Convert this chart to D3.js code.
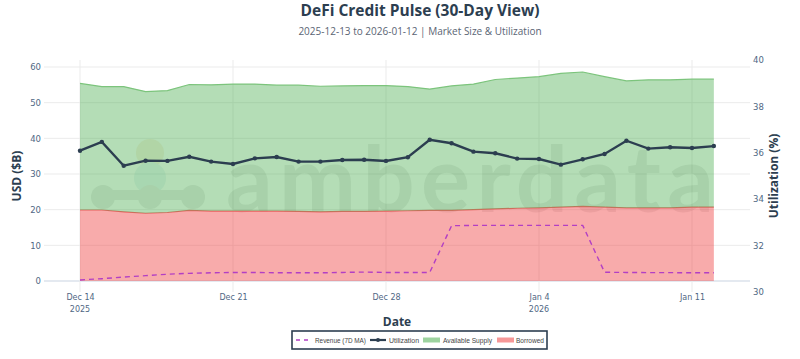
<!DOCTYPE html>
<html><head><meta charset="utf-8">
<script src="https://cdn.jsdelivr.net/npm/d3@7"></script>
<style>body{margin:0;background:#fff;} svg{display:block;font-family:"Open Sans",sans-serif;}</style>
</head><body><svg id="c" width="800" height="359"></svg>
<script>
const dates = ["2025-12-14","2025-12-15","2025-12-16","2025-12-17","2025-12-18","2025-12-19","2025-12-20","2025-12-21","2025-12-22","2025-12-23","2025-12-24","2025-12-25","2025-12-26","2025-12-27","2025-12-28","2025-12-29","2025-12-30","2025-12-31","2026-01-01","2026-01-02","2026-01-03","2026-01-04","2026-01-05","2026-01-06","2026-01-07","2026-01-08","2026-01-09","2026-01-10","2026-01-11","2026-01-12"];
const borrowed = [19.9,19.9,19.4,19.0,19.2,19.8,19.6,19.6,19.6,19.6,19.5,19.4,19.5,19.5,19.6,19.7,19.8,19.8,20.0,20.2,20.4,20.5,20.7,20.9,20.7,20.5,20.5,20.5,20.7,20.7];
const availableSupply = [35.5,34.6,35.1,34.1,34.2,35.3,35.4,35.6,35.6,35.3,35.4,35.2,35.2,35.3,35.2,34.8,34.0,34.9,35.2,36.3,36.5,36.8,37.5,37.7,36.6,35.6,35.9,35.9,35.9,35.9];
const utilization = [36.09,36.47,35.44,35.66,35.65,35.83,35.62,35.52,35.76,35.82,35.62,35.62,35.69,35.70,35.65,35.81,36.56,36.41,36.05,35.98,35.75,35.73,35.49,35.72,35.95,36.52,36.18,36.24,36.21,36.29];
const revenue7dMA = [0.3,0.65,1.1,1.5,1.9,2.15,2.3,2.4,2.4,2.3,2.3,2.3,2.4,2.5,2.4,2.4,2.4,15.5,15.6,15.6,15.6,15.6,15.6,15.6,2.45,2.4,2.35,2.35,2.3,2.3];
const leftTicks = [0,10,20,30,40,50,60];
const rightTicks = [30,32,34,36,38,40];
const xTickDates = ["2025-12-14","2025-12-21","2025-12-28","2026-01-04","2026-01-11"];
const xTickLabels = ["Dec 14","Dec 21","Dec 28","Jan 4","Jan 11"];
const xYearLabels = [["2025-12-14","2025"],["2026-01-04","2026"]];
const legendItems = ["Revenue (7D MA)","Utilization","Available Supply","Borrowed"];

const parse = d3.utcParse("%Y-%m-%d");
const data = dates.map((d,i)=>({date:parse(d), b:borrowed[i], a:availableSupply[i], u:utilization[i], r:revenue7dMA[i]}));

const svg = d3.select("#c");
const P = {l:44, r:750, t:60, b:292};
const x = d3.scaleUtc().domain([parse("2025-12-14"), parse("2026-01-11")]).range([80, 692]);
const yL = d3.scaleLinear().domain([0,60]).range([281,67]);
const yR = d3.scaleLinear().domain([30,40]).range([292,60]);

const ink = "#2c3e50", tickCol = "#506784", tickFont = "DejaVu Sans, Verdana, sans-serif";

// title
svg.append("text").attr("x",420).attr("y",15.5).attr("text-anchor","middle")
  .attr("font-size",15.5).attr("font-weight","bold").attr("fill",ink).text("DeFi Credit Pulse (30-Day View)");
svg.append("text").attr("x",420).attr("y",34.5).attr("text-anchor","middle")
  .attr("font-size",10).attr("fill","#5a6474").text("2025-12-13 to 2026-01-12 | Market Size & Utilization");

// grid
const g = svg.append("g");
g.selectAll(".hg").data(leftTicks).join("line")
  .attr("x1",P.l).attr("x2",P.r).attr("y1",d=>yL(d)).attr("y2",d=>yL(d))
  .attr("stroke",d=>d===0?"#e4e9f0":"#ebebeb").attr("stroke-width",d=>d===0?2:1);
g.selectAll(".vg").data(xTickDates).join("line")
  .attr("x1",d=>x(parse(d))).attr("x2",d=>x(parse(d))).attr("y1",P.t).attr("y2",P.b)
  .attr("stroke","#ebebeb");

// watermark
const wm = svg.append("g").attr("opacity",0.14);
wm.append("circle").attr("cx",150).attr("cy",153).attr("r",14).attr("fill","#e0a040");
wm.append("circle").attr("cx",150).attr("cy",178).attr("r",16).attr("fill","#6fb8c8");
[[103,197],[150,197],[193,197]].forEach(([cx,cy])=>wm.append("circle").attr("cx",cx).attr("cy",cy).attr("r",12).attr("fill","#707070"));
wm.append("rect").attr("x",103).attr("y",190).attr("width",90).attr("height",10).attr("fill","#707070");
wm.append("text").attr("x",226).attr("y",212).attr("font-size",92).attr("font-family","Lato, sans-serif")
  .attr("font-weight","bold").attr("fill","#707070").attr("textLength",488).text("amberdata");

// areas
svg.append("defs").append("clipPath").attr("id","pc").append("rect")
  .attr("x",P.l).attr("y",P.t).attr("width",P.r-P.l).attr("height",P.b-P.t);
const plot = svg.append("g").attr("clip-path","url(#pc)");
plot.append("path").datum(data).attr("fill","rgba(239,68,68,0.45)")
  .attr("d",d3.area().x(d=>x(d.date)).y0(yL(0)).y1(d=>yL(d.b)));
plot.append("path").datum(data).attr("fill","none").attr("stroke","#e8625f").attr("stroke-width",1.2)
  .attr("d",d3.line().x(d=>x(d.date)).y(d=>yL(d.b)));
plot.append("path").datum(data).attr("fill","rgba(76,175,80,0.42)")
  .attr("d",d3.area().x(d=>x(d.date)).y0(d=>yL(d.b)).y1(d=>yL(d.b+d.a)));
plot.append("path").datum(data).attr("fill","none").attr("stroke","#7cc47c").attr("stroke-width",1.2)
  .attr("d",d3.line().x(d=>x(d.date)).y(d=>yL(d.b+d.a)));
// revenue
plot.append("path").datum(data).attr("fill","none").attr("stroke","#b23fc4").attr("stroke-width",1.4)
  .attr("stroke-dasharray","5,4")
  .attr("d",d3.line().x(d=>x(d.date)).y(d=>yL(d.r)));
// utilization
plot.append("path").datum(data).attr("fill","none").attr("stroke",ink).attr("stroke-width",2.4)
  .attr("d",d3.line().x(d=>x(d.date)).y(d=>yR(d.u)));
plot.selectAll(".m").data(data).join("circle").attr("cx",d=>x(d.date)).attr("cy",d=>yR(d.u)).attr("r",2.2).attr("fill",ink);

// axes
const ax = svg.append("g").attr("transform",`translate(${P.l},0)`)
  .call(d3.axisLeft(yL).tickValues(leftTicks).tickSize(0).tickPadding(3));
ax.select(".domain").remove();
ax.selectAll("text").attr("font-size",8.5).attr("fill",tickCol).attr("font-family",tickFont);
const ar = svg.append("g").attr("transform",`translate(${P.r},0)`)
  .call(d3.axisRight(yR).tickValues(rightTicks).tickSize(0).tickPadding(3));
ar.select(".domain").remove();
ar.selectAll("text").attr("font-size",8.5).attr("fill",tickCol).attr("font-family",tickFont);
const axb = svg.append("g").attr("transform",`translate(0,${P.b})`)
  .call(d3.axisBottom(x).tickValues(xTickDates.map(parse)).tickSize(0).tickPadding(2).tickFormat((d,i)=>xTickLabels[i]));
axb.select(".domain").remove();
axb.selectAll("text").attr("font-size",8).attr("fill",tickCol).attr("font-family",tickFont);
svg.append("g").selectAll("text").data(xYearLabels).join("text")
  .attr("x",d=>x(parse(d[0]))).attr("y",P.b+19.5).attr("text-anchor","middle")
  .attr("font-size",8).attr("font-family",tickFont).attr("fill",tickCol).text(d=>d[1]);

// axis titles
svg.append("text").attr("transform","translate(21,176) rotate(-90)").attr("text-anchor","middle")
  .attr("font-size",12).attr("font-weight","bold").attr("fill",ink).text("USD ($B)");
svg.append("text").attr("transform","translate(778,176) rotate(-90)").attr("text-anchor","middle")
  .attr("font-size",12).attr("font-weight","bold").attr("fill",ink).text("Utilization (%)");
svg.append("text").attr("x",397).attr("y",326).attr("text-anchor","middle")
  .attr("font-size",12).attr("font-weight","bold").attr("fill",ink).text("Date");

// legend
const lg = svg.append("g");
lg.append("rect").attr("x",292).attr("y",331).attr("width",255).attr("height",18).attr("fill","#fff")
  .attr("stroke",ink).attr("stroke-width",1.6);
const ly = 340;
const lx = [296, 370, 423, 497];
const tx = [315, 389, 443, 516];
const tw = [51, 30, 49, 28];
lg.append("line").attr("x1",lx[0]).attr("x2",lx[0]+14).attr("y1",ly).attr("y2",ly).attr("stroke","#b23fc4").attr("stroke-width",1.4).attr("stroke-dasharray","4,4");
lg.append("line").attr("x1",lx[1]).attr("x2",lx[1]+16).attr("y1",ly).attr("y2",ly).attr("stroke",ink).attr("stroke-width",2.2);
lg.append("circle").attr("cx",lx[1]+8).attr("cy",ly).attr("r",2).attr("fill",ink);
lg.append("rect").attr("x",lx[2]).attr("y",ly-2.5).attr("width",17).attr("height",5).attr("fill","rgba(76,175,80,0.55)");
lg.append("rect").attr("x",lx[3]).attr("y",ly-2.5).attr("width",17).attr("height",5).attr("fill","rgba(239,68,68,0.55)");
lg.selectAll(".lt").data(legendItems).join("text").attr("x",(d,i)=>tx[i]).attr("y",ly+2.5)
  .attr("font-size",7).attr("fill","#444").attr("font-family","Liberation Sans, Arial, sans-serif")
  .attr("textLength",(d,i)=>tw[i]).attr("lengthAdjust","spacingAndGlyphs").text(d=>d);
</script></body></html>
